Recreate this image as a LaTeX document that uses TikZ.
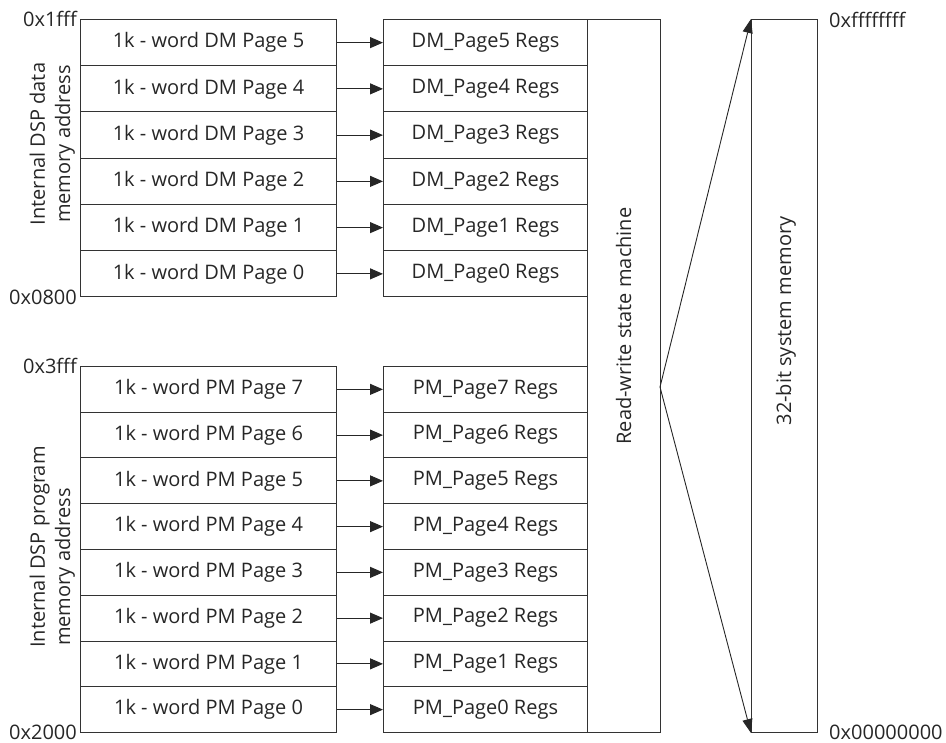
\documentclass[tikz,border=0pt]{standalone}
\usepackage{fontspec}
\setmainfont{Open Sans}
\usetikzlibrary{arrows.meta}
\begin{document}
\begin{tikzpicture}[x=1pt,y=-1pt,
  every node/.style={font=\fontsize{20}{24}\selectfont, text=black!85},
  cell/.style={draw=black!80, line width=1pt, rectangle, inner sep=0pt, anchor=north west},
  lbl/.style={inner sep=0pt},
  side/.style={inner sep=0pt, rotate=90, anchor=base},
  conn/.style={draw=black!85, line width=1pt, -{Triangle[length=13pt,width=11pt]}},
  diag/.style={draw=black!85, line width=0.9pt, -{Triangle[length=14pt,width=10pt]}}
]
\useasboundingbox (0,0) rectangle (946,743);
% DM pages
\foreach \i/\p in {0/5,1/4,2/3,3/2,4/1,5/0}{
  \node[cell, minimum width=256pt, minimum height=46.25pt] (dm\p) at (80,{19+\i*46.25}) {1k - word DM Page \p};
  \node[cell, minimum width=204pt, minimum height=46.25pt] (rdm\p) at (383,{19+\i*46.25}) {DM\_Page\p{} Regs};
  \draw[conn] (dm\p.east) -- (rdm\p.west);
}
% PM pages
\foreach \i/\p in {0/7,1/6,2/5,3/4,4/3,5/2,6/1,7/0}{
  \node[cell, minimum width=256pt, minimum height=45.75pt] (pm\p) at (80,{366+\i*45.75}) {1k - word PM Page \p};
  \node[cell, minimum width=204pt, minimum height=45.75pt] (rpm\p) at (383,{366+\i*45.75}) {PM\_Page\p{} Regs};
  \draw[conn] (pm\p.east) -- (rpm\p.west);
}
% state machine
\node[cell, minimum width=73pt, minimum height=713pt] (sm) at (587,19) {};
\node[lbl, rotate=90] (smt) at (623.5,326) {Read-write state machine};
% system memory
\node[cell, minimum width=66pt, minimum height=713pt] (mem) at (751,19) {};
\node[lbl, rotate=90] (memt) at (786,321) {32-bit system memory};
% diagonals
\coordinate (apex) at (660,387);
\draw[diag] (apex) -- (mem.north west);
\draw[diag] (apex) -- (mem.south west);
% address labels
\node[lbl, anchor=east] (a1) at (77,19) {0x1fff};
\node[lbl, anchor=east] (a2) at (77,297) {0x0800};
\node[lbl, anchor=east] (a3) at (77,366) {0x3fff};
\node[lbl, anchor=east] (a4) at (77,732) {0x2000};
\node[lbl, anchor=west] (a5) at (829,20) {0xffffffff};
\node[lbl, anchor=west] (a6) at (829,732) {0x00000000};
% side labels
\node[side] (dml1) at (45,144) {Internal DSP data};
\node[side] (dml2) at (70,144) {memory address};
\node[side] (pml1) at (45,547) {Internal DSP program};
\node[side] (pml2) at (70,567) {memory address};
\end{tikzpicture}
\end{document}
